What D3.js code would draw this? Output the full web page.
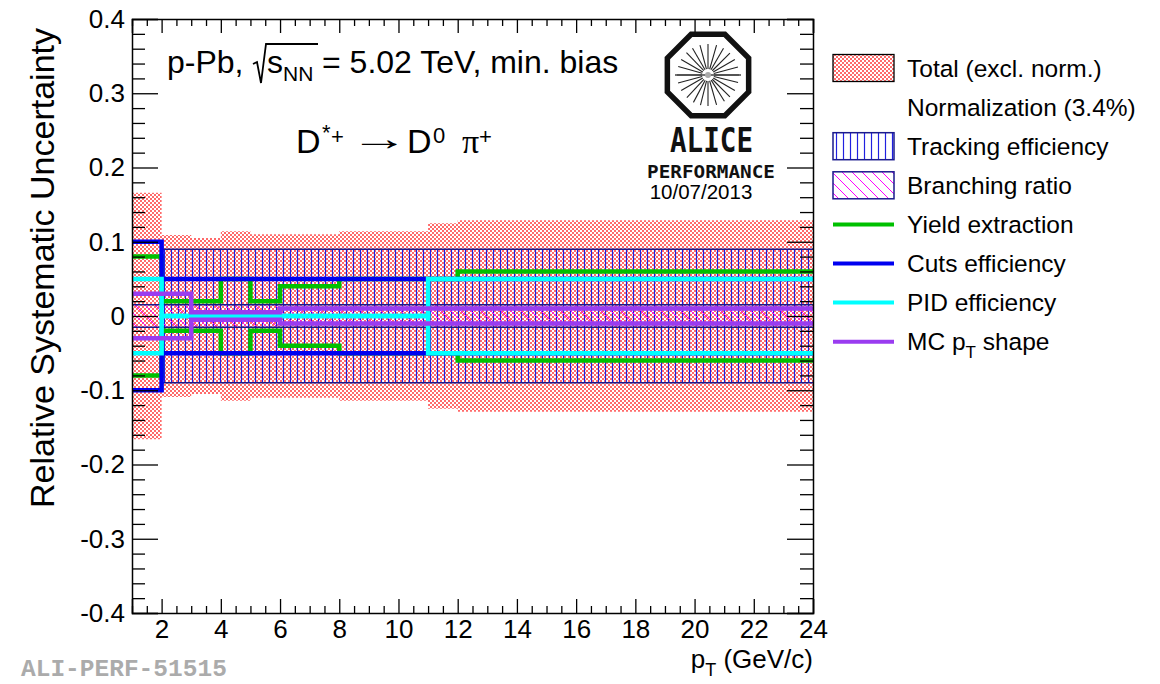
<!DOCTYPE html>
<html>
<head>
<meta charset="utf-8">
<script src="https://cdn.jsdelivr.net/npm/d3@7/dist/d3.min.js"></script>
<style>
  html, body { margin: 0; padding: 0; background: #fff; }
  svg { display: block; font-family: "Liberation Sans", Arial, Helvetica, sans-serif; }
</style>
</head>
<body>
<svg id="chart" width="1160" height="684"></svg>
<script>
// ---- data: relative systematic uncertainties vs pT (GeV/c), per source ----
const totalEdges = [1, 2, 3, 4, 5, 6, 8, 11, 12, 24];
const totalVals  = [0.166, 0.109, 0.105, 0.114, 0.110, 0.110, 0.114, 0.125, 0.129];

const trackEdges = [2, 24];
const trackVals  = [0.09];

const brEdges = [1, 24];
const brVals  = [0.015];

const yieldEdges = [1, 2, 3, 4, 5, 6, 8, 12, 24];
const yieldVals  = [0.08, 0.02, 0.02, 0.05, 0.02, 0.04, 0.05, 0.06];

const cutsEdges = [1, 2, 11, 24];
const cutsVals  = [0.10, 0.05, 0.05];

const pidEdges = [1, 2, 11, 24];
const pidVals  = [0.05, 0.0, 0.05];

const mcEdges = [1, 3, 6, 24];
const mcVals  = [0.03, 0.005, 0.01];

const xTickValues = [2, 4, 6, 8, 10, 12, 14, 16, 18, 20, 22, 24];
const yTickValues = [-0.4, -0.3, -0.2, -0.1, 0, 0.1, 0.2, 0.3, 0.4];
const yTickLabels = ["-0.4", "-0.3", "-0.2", "-0.1", "0", "0.1", "0.2", "0.3", "0.4"];

const legendLabels = ["Total (excl. norm.)", "Normalization (3.4%)", "Tracking efficiency",
                      "Branching ratio", "Yield extraction", "Cuts efficiency", "PID efficiency", "MC p"];

// ---- layout ----
const svg = d3.select("#chart");
const x = d3.scaleLinear().domain([1, 24]).range([132, 813]);
const y = d3.scaleLinear().domain([-0.4, 0.4]).range([613, 19]);

const colors = {
  yield: "#00c000",
  cuts: "#0000f0",
  pid: "#00ffff",
  mc: "#9a3cf0",
  frameBlue: "#1a1a8c"
};

// ---- fill patterns ----
const defs = svg.append("defs");
const dots = defs.append("pattern").attr("id", "dots").attr("patternUnits", "userSpaceOnUse")
  .attr("width", 4).attr("height", 4);
dots.append("rect").attr("x", 0).attr("y", 0).attr("width", 2).attr("height", 2).attr("fill", "#ff3030").attr("opacity", 0.72);
dots.append("rect").attr("x", 2).attr("y", 2).attr("width", 2).attr("height", 2).attr("fill", "#ff3030").attr("opacity", 0.72);

const vhatch = defs.append("pattern").attr("id", "vhatch").attr("patternUnits", "userSpaceOnUse")
  .attr("width", 7).attr("height", 10);
vhatch.append("line").attr("x1", 3.5).attr("x2", 3.5).attr("y1", 0).attr("y2", 10)
  .attr("stroke", "#2020e0").attr("stroke-width", 1.2);

const dhatch = defs.append("pattern").attr("id", "dhatch").attr("patternUnits", "userSpaceOnUse")
  .attr("width", 10).attr("height", 10);
dhatch.append("path").attr("d", "M-2,-2 L12,12 M-2,8 L2,12 M8,-2 L12,2")
  .attr("stroke", "#ff00ff").attr("stroke-width", 1);

// ---- helpers ----
const toPts = (edges, vals) => edges.map((e, i) => ({ e, v: vals[Math.min(i, vals.length - 1)] }));
const band = d3.area().curve(d3.curveStepAfter).x(d => x(d.e)).y0(d => y(-d.v)).y1(d => y(d.v));
const upper = d3.line().curve(d3.curveStepAfter).x(d => x(d.e)).y(d => y(d.v));
const lower = d3.line().curve(d3.curveStepAfter).x(d => x(d.e)).y(d => y(-d.v));

const plot = svg.append("g");

// total uncertainty (excluding normalisation)
plot.append("path").attr("d", band(toPts(totalEdges, totalVals))).attr("fill", "url(#dots)");

// tracking efficiency band
plot.append("path").attr("d", band(toPts(trackEdges, trackVals))).attr("fill", "url(#vhatch)");
[upper, lower].forEach(g => plot.append("path").attr("d", g(toPts(trackEdges, trackVals)))
  .attr("fill", "none").attr("stroke", colors.frameBlue).attr("stroke-width", 1.5));

// branching ratio band
plot.append("path").attr("d", band(toPts(brEdges, brVals))).attr("fill", "url(#dhatch)");
[upper, lower].forEach(g => plot.append("path").attr("d", g(toPts(brEdges, brVals)))
  .attr("fill", "none").attr("stroke", colors.frameBlue).attr("stroke-width", 1.5));

// step lines for the individual sources
function stepLines(edges, vals, color) {
  const pts = toPts(edges, vals);
  [upper, lower].forEach(g => plot.append("path").attr("d", g(pts))
    .attr("fill", "none").attr("stroke", color).attr("stroke-width", 4.5)
    .attr("stroke-linejoin", "miter").attr("stroke-linecap", "butt"));
}
stepLines(yieldEdges, yieldVals, colors.yield);
stepLines(cutsEdges, cutsVals, colors.cuts);
stepLines(pidEdges, pidVals, colors.pid);
stepLines(mcEdges, mcVals, colors.mc);

// ---- axes (ticks inward on all four sides) ----
const axFont = 26;
const xMinor = d3.range(1, 24.01, 0.5).filter(v => v % 2 !== 0);
const yMinor = d3.range(-0.4, 0.4001, 0.02).map(v => +v.toFixed(2)).filter(v => Math.abs(Math.round(v * 10) - v * 10) > 1e-6);

function styleAxis(g) {
  g.select(".domain").attr("stroke", "#000").attr("stroke-width", 1.5);
  g.selectAll(".tick line").attr("stroke", "#000").attr("stroke-width", 1.3);
}

const gb = svg.append("g").attr("transform", `translate(0,${y(-0.4)})`)
  .call(d3.axisBottom(x).tickValues(xTickValues).tickSize(-14).tickPadding(7).tickFormat(d3.format("d")));
gb.selectAll("text").attr("font-size", axFont).attr("font-family", "Liberation Sans, Arial, sans-serif").attr("fill", "#000");
styleAxis(gb);
svg.append("g").attr("transform", `translate(0,${y(-0.4)})`)
  .call(d3.axisBottom(x).tickValues(xMinor).tickSize(-7).tickFormat("")).call(styleAxis)
  .select(".domain").remove();

const gt = svg.append("g").attr("transform", `translate(0,${y(0.4)})`)
  .call(d3.axisTop(x).tickValues(xTickValues).tickSize(-14).tickFormat(""));
styleAxis(gt);
svg.append("g").attr("transform", `translate(0,${y(0.4)})`)
  .call(d3.axisTop(x).tickValues(xMinor).tickSize(-7).tickFormat("")).call(styleAxis)
  .select(".domain").remove();

const gl = svg.append("g").attr("transform", `translate(${x(1)},0)`)
  .call(d3.axisLeft(y).tickValues(yTickValues).tickSize(-26).tickPadding(7)
    .tickFormat((d, i) => yTickLabels[i]));
gl.selectAll("text").attr("font-size", axFont).attr("font-family", "Liberation Sans, Arial, sans-serif").attr("fill", "#000");
styleAxis(gl);
svg.append("g").attr("transform", `translate(${x(1)},0)`)
  .call(d3.axisLeft(y).tickValues(yMinor).tickSize(-13).tickFormat("")).call(styleAxis)
  .select(".domain").remove();

const gr = svg.append("g").attr("transform", `translate(${x(24)},0)`)
  .call(d3.axisRight(y).tickValues(yTickValues).tickSize(-26).tickFormat(""));
styleAxis(gr);
svg.append("g").attr("transform", `translate(${x(24)},0)`)
  .call(d3.axisRight(y).tickValues(yMinor).tickSize(-13).tickFormat("")).call(styleAxis)
  .select(".domain").remove();

// axis titles
svg.append("text").attr("transform", "translate(54,268) rotate(-90)")
  .attr("text-anchor", "middle").attr("font-size", 34).text("Relative Systematic Uncertainty");

const xt = svg.append("text").attr("x", 813).attr("y", 668).attr("text-anchor", "end").attr("font-size", 26);
xt.append("tspan").text("p");
xt.append("tspan").attr("dy", 8).attr("font-size", 18).text("T");
xt.append("tspan").attr("dy", -8).text(" (GeV/c)");

svg.append("text").attr("x", 21).attr("y", 676).attr("font-family", "Liberation Mono, Courier New, monospace")
  .attr("font-weight", "bold").attr("font-size", 24.5).attr("fill", "#ababab").text("ALI-PERF-51515");

// ---- annotations ----
const t1 = 32;
svg.append("text").attr("x", 167).attr("y", 73).attr("font-size", t1).text("p-Pb,");
svg.append("path").attr("d", "M253,64 L257,62 L261,83 L266,44 L318,44")
  .attr("fill", "none").attr("stroke", "#000").attr("stroke-width", 1.8);
const sq = svg.append("text").attr("x", 267).attr("y", 73).attr("font-size", t1);
sq.append("tspan").text("s");
sq.append("tspan").attr("dy", 8).attr("font-size", 21).text("NN");
svg.append("text").attr("x", 322).attr("y", 73).attr("font-size", t1).text("= 5.02 TeV, min. bias");

// D*+ -> D0 pi+ decay channel
const dec = svg.append("text").attr("y", 153).attr("font-size", 34);
dec.append("tspan").attr("x", 296).text("D");
dec.append("tspan").attr("x", 322).attr("y", 140).attr("font-size", 22).text("*");
dec.append("tspan").attr("x", 331).attr("y", 144).attr("font-size", 22).text("+");
dec.append("tspan").attr("x", 407).attr("y", 153).text("D");
dec.append("tspan").attr("x", 433).attr("y", 143).attr("font-size", 22).text("0");
dec.append("tspan").attr("x", 462).attr("y", 153).attr("font-family", "Liberation Serif, Times New Roman, serif").text("\u03c0");
dec.append("tspan").attr("x", 479).attr("y", 144).attr("font-size", 22).text("+");
// long decay arrow, stretched horizontally
svg.append("text").attr("transform", "translate(350,150) scale(1.72,1)").attr("font-size", 34).text("\u2192");

// ---- ALICE emblem ----
const logo = svg.append("g").attr("transform", "translate(708,75)");
const oct = d3.range(8).map(k => {
  const a = (22.5 + 45 * k) * Math.PI / 180;
  return [44 * Math.cos(a), 44 * Math.sin(a)];
});
logo.append("polygon").attr("points", oct.map(p => p.join(",")).join(" "))
  .attr("fill", "#fff").attr("stroke", "#111").attr("stroke-width", 5.5);
const rayAngles = [0, 14, 30, 45, 58, 74, 90, 104, 118, 133, 150, 165, 180, 196, 210, 226, 240, 255, 270, 286, 300, 315, 330, 345];
logo.selectAll("line.ray").data(rayAngles).join("line").attr("class", "ray")
  .attr("x1", a => 6 * Math.cos(a * Math.PI / 180)).attr("y1", a => 6 * Math.sin(a * Math.PI / 180))
  .attr("x2", a => 31 * Math.cos(a * Math.PI / 180)).attr("y2", a => 31 * Math.sin(a * Math.PI / 180))
  .attr("stroke", "#222").attr("stroke-width", 1.1);
logo.append("line").attr("x1", -33).attr("x2", 33).attr("y1", 0).attr("y2", 0).attr("stroke", "#444").attr("stroke-width", 1.4);
logo.append("circle").attr("r", 3).attr("fill", "#aaa");

svg.append("text").attr("x", 670).attr("y", 152).attr("font-family", "DejaVu Sans Mono, monospace")
  .attr("font-weight", "bold").attr("font-size", 34).attr("textLength", 83).attr("lengthAdjust", "spacingAndGlyphs")
  .attr("fill", "#111").text("ALICE");
svg.append("text").attr("x", 647).attr("y", 178).attr("font-family", "DejaVu Sans Mono, monospace")
  .attr("font-weight", "bold").attr("font-size", 17).attr("textLength", 128).attr("lengthAdjust", "spacingAndGlyphs")
  .attr("fill", "#111").text("PERFORMANCE");
svg.append("text").attr("x", 701).attr("y", 199).attr("text-anchor", "middle").attr("font-size", 20.5)
  .text("10/07/2013");

// ---- legend ----
const lg = svg.append("g");
const rowY = i => 68 + i * 39.1;
const bx = 833, bw = 61, bh = 27, tx = 907;

lg.append("rect").attr("x", bx).attr("y", rowY(0) - bh / 2).attr("width", bw).attr("height", bh)
  .attr("fill", "url(#dots)").attr("stroke", "#000").attr("stroke-width", 1.3);
lg.append("rect").attr("x", bx).attr("y", rowY(2) - bh / 2).attr("width", bw).attr("height", bh)
  .attr("fill", "url(#vhatch)").attr("stroke", colors.frameBlue).attr("stroke-width", 1.5);
lg.append("rect").attr("x", bx).attr("y", rowY(3) - bh / 2).attr("width", bw).attr("height", bh)
  .attr("fill", "url(#dhatch)").attr("stroke", colors.frameBlue).attr("stroke-width", 1.5);
[colors.yield, colors.cuts, colors.pid, colors.mc].forEach((c, k) => {
  lg.append("line").attr("x1", bx).attr("x2", bx + bw).attr("y1", rowY(4 + k)).attr("y2", rowY(4 + k))
    .attr("stroke", c).attr("stroke-width", 4);
});
legendLabels.forEach((s, i) => {
  const t = lg.append("text").attr("x", tx).attr("y", rowY(i) + 8.5).attr("font-size", 24.5).text(s);
  if (i === 7) {
    t.append("tspan").attr("dy", 8).attr("font-size", 17).text("T");
    t.append("tspan").attr("dy", -8).text(" shape");
  }
});
</script>
</body>
</html>
